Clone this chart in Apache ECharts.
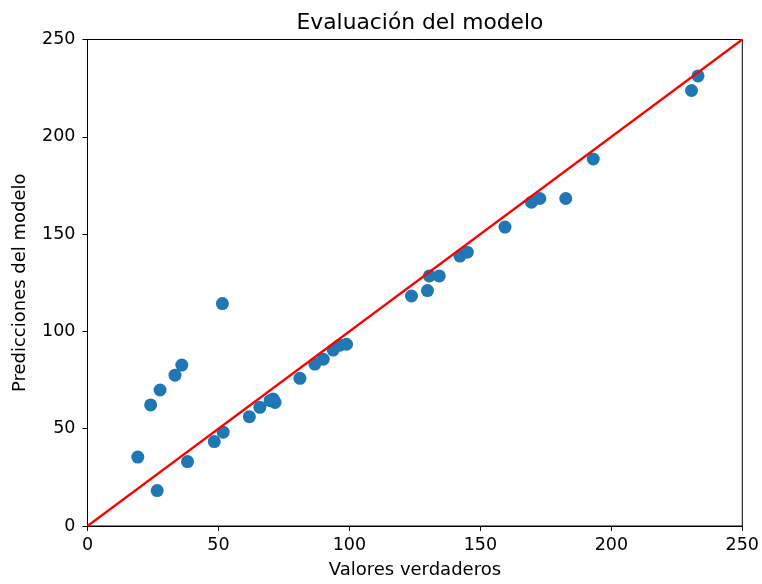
<!DOCTYPE html>
<html>
<head>
<meta charset="utf-8">
<script src="https://cdn.jsdelivr.net/npm/echarts@6/dist/echarts.min.js"></script>
<style>html,body{margin:0;padding:0;background:#fff}#c{width:762px;height:584px}</style>
</head>
<body>
<div id="c"></div>
<script>
const trueValues = [19.2,24.1,26.6,27.7,33.4,36.0,38.2,48.4,51.8,51.5,61.8,65.8,69.7,70.9,71.6,81.1,86.8,90.0,93.8,96.4,98.9,123.7,129.8,130.5,134.3,142.2,145.0,159.4,169.5,172.7,182.6,193.1,230.6,233.1];
const predValues = [35.4,62.2,18.2,69.9,77.5,82.7,33.1,43.4,48.2,114.3,56.2,61.0,64.4,65.2,63.5,75.9,83.2,85.7,90.4,92.9,93.4,118.2,121.0,128.5,128.5,138.7,140.7,153.6,166.4,168.3,168.3,188.6,223.8,231.3];
const refLine = [[0,0],[250,250]];
const ticks = [0,50,100,150,200,250];
const titleText = 'Evaluación del modelo';
const xName = 'Valores verdaderos';
const yName = 'Predicciones del modelo';

const pts = trueValues.map((v,i)=>[v,predValues[i]]);
const font = 'DejaVu Sans';
const axisCommon = {
  min: 0, max: 250, interval: 50,
  axisLine: {show: true, onZero: false, lineStyle: {color: '#000', width: 1}},
  axisTick: {show: true, inside: false, length: 5, lineStyle: {color: '#000'}},
  axisLabel: {color: '#000', fontFamily: font, fontSize: 17.5},
  splitLine: {show: false},
  nameLocation: 'middle',
  nameTextStyle: {color: '#000', fontFamily: font, fontSize: 18}
};
const chart = echarts.init(document.getElementById('c'));
chart.setOption({
  animation: false,
  title: {text: titleText, left: 415, top: 7, textAlign: 'center',
    textStyle: {fontFamily: font, fontSize: 21.8, fontWeight: 'normal', color: '#000'}},
  grid: {left: 87.5, right: 19.5, top: 39.5, bottom: 56.7, show: true, borderColor: '#000', borderWidth: 1},
  xAxis: Object.assign({}, axisCommon, {type: 'value', name: xName, nameGap: 35,
    axisLabel: Object.assign({}, axisCommon.axisLabel, {margin: 10})}),
  yAxis: Object.assign({}, axisCommon, {type: 'value', name: yName, nameGap: 58,
    axisLabel: Object.assign({}, axisCommon.axisLabel, {margin: 12})}),
  series: [
    {type: 'scatter', data: pts, symbolSize: 13, itemStyle: {color: '#1f77b4', opacity: 1}, z: 2},
    {type: 'line', data: refLine, symbol: 'none', lineStyle: {color: '#ff0000', width: 2.2}, z: 3}
  ]
});
</script>
</body>
</html>
